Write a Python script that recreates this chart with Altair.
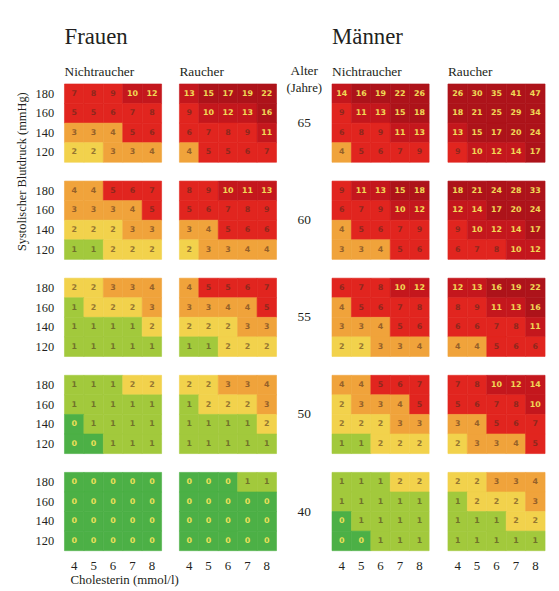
import altair as alt
import pandas as pd

# ---------------- data ----------------
ages = [65, 60, 55, 50, 40]
sbp_levels = [180, 160, 140, 120]
chol_levels = [4, 5, 6, 7, 8]
smoking_levels = ["Nichtraucher", "Raucher"]

# rows: SBP 180, 160, 140, 120 ; columns: cholesterol 4..8
women_nonsmoker = {
    65: [[7, 8, 9, 10, 12], [5, 5, 6, 7, 8], [3, 3, 4, 5, 6], [2, 2, 3, 3, 4]],
    60: [[4, 4, 5, 6, 7], [3, 3, 3, 4, 5], [2, 2, 2, 3, 3], [1, 1, 2, 2, 2]],
    55: [[2, 2, 3, 3, 4], [1, 2, 2, 2, 3], [1, 1, 1, 1, 2], [1, 1, 1, 1, 1]],
    50: [[1, 1, 1, 2, 2], [1, 1, 1, 1, 1], [0, 1, 1, 1, 1], [0, 0, 1, 1, 1]],
    40: [[0, 0, 0, 0, 0], [0, 0, 0, 0, 0], [0, 0, 0, 0, 0], [0, 0, 0, 0, 0]],
}
women_smoker = {
    65: [[13, 15, 17, 19, 22], [9, 10, 12, 13, 16], [6, 7, 8, 9, 11], [4, 5, 5, 6, 7]],
    60: [[8, 9, 10, 11, 13], [5, 6, 7, 8, 9], [3, 4, 5, 6, 6], [2, 3, 3, 4, 4]],
    55: [[4, 5, 5, 6, 7], [3, 3, 4, 4, 5], [2, 2, 2, 3, 3], [1, 1, 2, 2, 2]],
    50: [[2, 2, 3, 3, 4], [1, 2, 2, 2, 3], [1, 1, 1, 1, 2], [1, 1, 1, 1, 1]],
    40: [[0, 0, 0, 1, 1], [0, 0, 0, 0, 0], [0, 0, 0, 0, 0], [0, 0, 0, 0, 0]],
}
men_nonsmoker = {
    65: [[14, 16, 19, 22, 26], [9, 11, 13, 15, 18], [6, 8, 9, 11, 13], [4, 5, 6, 7, 9]],
    60: [[9, 11, 13, 15, 18], [6, 7, 9, 10, 12], [4, 5, 6, 7, 9], [3, 3, 4, 5, 6]],
    55: [[6, 7, 8, 10, 12], [4, 5, 6, 7, 8], [3, 3, 4, 5, 6], [2, 2, 3, 3, 4]],
    50: [[4, 4, 5, 6, 7], [2, 3, 3, 4, 5], [2, 2, 2, 3, 3], [1, 1, 2, 2, 2]],
    40: [[1, 1, 1, 2, 2], [1, 1, 1, 1, 1], [0, 1, 1, 1, 1], [0, 0, 1, 1, 1]],
}
men_smoker = {
    65: [[26, 30, 35, 41, 47], [18, 21, 25, 29, 34], [13, 15, 17, 20, 24], [9, 10, 12, 14, 17]],
    60: [[18, 21, 24, 28, 33], [12, 14, 17, 20, 24], [9, 10, 12, 14, 17], [6, 7, 8, 10, 12]],
    55: [[12, 13, 16, 19, 22], [8, 9, 11, 13, 16], [6, 6, 7, 8, 11], [4, 4, 5, 6, 6]],
    50: [[7, 8, 10, 12, 14], [5, 6, 7, 8, 10], [3, 4, 5, 6, 7], [2, 3, 3, 4, 5]],
    40: [[2, 2, 3, 3, 4], [1, 2, 2, 2, 3], [1, 1, 1, 2, 2], [1, 1, 1, 1, 1]],
}

risk_thresholds = [1, 2, 3, 5, 10, 15]
risk_colors = ["#4cb046", "#a2c93c", "#f2d24c", "#f0a33b", "#e1251f", "#c4171d", "#ad131a"]


def to_long(tables):
    rows = []
    for smoking, table in tables.items():
        for age in ages:
            for i, sbp in enumerate(sbp_levels):
                for j, chol in enumerate(chol_levels):
                    rows.append({"smoking": smoking, "age": age, "sbp": sbp,
                                 "chol": chol, "risk": table[age][i][j]})
    return pd.DataFrame(rows)


df_w = to_long({"Nichtraucher": women_nonsmoker, "Raucher": women_smoker})
df_m = to_long({"Nichtraucher": men_nonsmoker, "Raucher": men_smoker})
df_age = pd.DataFrame({"age": ages, "hdr": ["Alter"] * len(ages)})

# ---------------- style ----------------
FONT = "Liberation Serif"
TXT = "#231f20"
W, H = 98, 79
ROW_SP = 19
COL_SP = 18


def panel(show_y, extra_layers=()):
    base = alt.Chart()
    x = alt.X("chol:O", title=None,
              scale=alt.Scale(paddingInner=0, paddingOuter=0),
              axis=alt.Axis(labelFont=FONT, labelFontSize=13, labelColor=TXT,
                            labelAngle=0, ticks=False, domain=False, labelPadding=9))
    if show_y:
        y = alt.Y("sbp:O", sort="descending", title=None,
                  scale=alt.Scale(paddingInner=0, paddingOuter=0),
                  axis=alt.Axis(labelFont=FONT, labelFontSize=12.5, labelColor=TXT,
                                ticks=False, domain=False, labelPadding=11))
    else:
        y = alt.Y("sbp:O", sort="descending", title=None,
                  scale=alt.Scale(paddingInner=0, paddingOuter=0), axis=None)
    risk_scale = alt.Scale(type="threshold", domain=risk_thresholds, range=risk_colors)
    rect = base.mark_rect(strokeWidth=0.6).encode(
        x=x, y=y,
        color=alt.Color("risk:Q", legend=None, scale=risk_scale),
        stroke=alt.Stroke("risk:Q", legend=None, scale=risk_scale),
    )
    text = base.mark_text(font="DejaVu Sans", fontSize=8, fontWeight="bold").encode(
        x=x, y=y, text="risk:Q",
        color=alt.condition("datum.risk >= 10 || datum.risk == 0",
                            alt.value("#f4e35a"), alt.value("#4a2a1c")),
        opacity=alt.condition("datum.risk >= 10 || datum.risk == 0",
                              alt.value(0.95), alt.value(0.55)),
    )
    return alt.layer(rect, text, *extra_layers).properties(width=W, height=H)


ytitle = alt.Chart().mark_text(
    text="Systolischer Blutdruck (mmHg)", angle=270, font=FONT, fontSize=12.5,
    color=TXT, align="center", baseline="middle"
).encode(x=alt.value(-43), y=alt.value(H + ROW_SP / 2)).transform_filter(
    "datum.age == 65 && datum.smoking == 'Nichtraucher' && datum.sbp == 180 && datum.chol == 4")

xtitle = alt.Chart().mark_text(
    text="Cholesterin (mmol/l)", font=FONT, fontSize=13, color=TXT,
    align="left", baseline="middle"
).encode(x=alt.value(6), y=alt.value(H + 30)).transform_filter(
    "datum.age == 40 && datum.smoking == 'Nichtraucher' && datum.sbp == 120 && datum.chol == 4")


def col_header():
    return alt.Header(title=None, labelFont=FONT, labelFontSize=13.5, labelColor=TXT,
                      labelAnchor="start", labelAlign="left", labelPadding=6)


def group_title(txt):
    return alt.TitleParams(txt, font=FONT, fontSize=23, fontWeight="normal", color=TXT,
                           anchor="start", frame="group", offset=16)


women = panel(True, [ytitle, xtitle]).facet(
    data=df_w,
    row=alt.Row("age:O", sort="descending", header=alt.Header(labels=False, title=None)),
    column=alt.Column("smoking:N", sort=smoking_levels, header=col_header()),
    spacing={"row": ROW_SP, "column": COL_SP},
    bounds="flush",
).properties(title=group_title("Frauen"))

men = panel(False).facet(
    data=df_m,
    row=alt.Row("age:O", sort="descending", header=alt.Header(labels=False, title=None)),
    column=alt.Column("smoking:N", sort=smoking_levels, header=col_header()),
    spacing={"row": ROW_SP, "column": COL_SP + 1},
    bounds="flush",
).properties(title=group_title("Männer"))

AGE_W = 44
age_label = alt.Chart().mark_text(font=FONT, fontSize=13.5, color=TXT,
                                  baseline="middle").encode(
    text="age:O", x=alt.value(AGE_W / 2), y=alt.value(H / 2))
jahre = alt.Chart().mark_text(text="(Jahre)", font=FONT, fontSize=13, color=TXT,
                              baseline="alphabetic").encode(
    x=alt.value(AGE_W / 2), y=alt.value(8)).transform_filter("datum.age == 65")

age_col = alt.layer(age_label, jahre).properties(width=AGE_W, height=H).facet(
    data=df_age,
    row=alt.Row("age:O", sort="descending", header=alt.Header(labels=False, title=None)),
    column=alt.Column("hdr:N", header=alt.Header(title=None, labelFont=FONT, labelFontSize=13.5,
                                                 labelColor=TXT, labelPadding=7)),
    spacing={"row": ROW_SP, "column": COL_SP},
    bounds="flush",
).properties(title=group_title(" "))

chart = alt.hconcat(women, age_col, men, spacing=5).properties(
    padding={"left": 8, "top": 14, "right": 5, "bottom": 0},
    background="white",
).configure_view(strokeWidth=0)

chart.save("out.html", embed_options={"renderer": "svg", "actions": False})
